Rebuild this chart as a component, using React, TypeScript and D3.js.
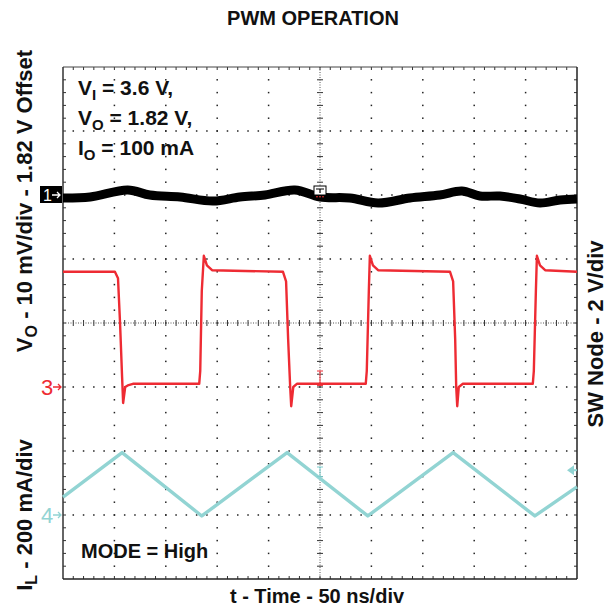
import React from 'react';
import * as d3 from 'd3';

// ---- data ----
// Channel 1: Vo ripple, mV around the 1.82 V offset, time in divisions (50 ns/div)
const ch1Time = [0, 0.53, 1.26, 1.69, 2.28, 2.92, 3.44, 3.93, 4.51, 5.0, 5.58, 6.13, 6.75, 7.33, 7.76, 8.11, 8.5, 8.89, 9.28, 9.67, 10];
const ch1mV = [-0.47, -0.31, 0.78, 0, -0.31, -0.94, -0.31, 0, 0.78, -0.31, -0.47, -1.25, -0.47, 0, 0.63, -0.16, -0.16, -0.63, -1.25, -0.78, -0.63];

// Channel 3: SW node, volts
const swTime = [0, 1.01, 1.07, 1.11, 1.15, 1.17, 1.21, 1.26, 1.36, 2.65, 2.67, 2.70, 2.74, 2.80, 2.90,
  4.28, 4.34, 4.38, 4.42, 4.44, 4.48, 4.55, 5.89, 5.91, 5.95, 5.97, 6.03, 6.13,
  7.53, 7.59, 7.63, 7.65, 7.67, 7.70, 7.78, 9.14, 9.16, 9.20, 9.22, 9.28, 9.38, 10];
const swVolts = [3.6, 3.6, 3.4, 2.0, 0.3, -0.5, 0.0, 0.05, 0.1, 0.1, 0.5, 3.0, 4.1, 3.8, 3.65,
  3.6, 3.3, 1.5, 0.0, -0.6, 0.0, 0.1, 0.1, 0.5, 3.0, 4.1, 3.8, 3.65,
  3.6, 3.3, 1.5, 0.0, -0.6, 0.0, 0.1, 0.1, 0.5, 3.0, 4.1, 3.8, 3.65, 3.6];

// Channel 4: inductor current, mA
const ilTime = [0, 1.15, 2.70, 4.36, 5.93, 7.59, 9.18, 10];
const ilmA = [56, 195, -3, 195, -3, 195, -3, 88];

// text
const titleText = 'PWM OPERATION';
const xLabel = 't - Time - 50 ns/div';
const rightLabel = 'SW Node - 2 V/div';
const condLines = [
  { main: 'V', sub: 'I', rest: ' = 3.6 V,' },
  { main: 'V', sub: 'O', rest: ' = 1.82 V,' },
  { main: 'I', sub: 'O', rest: ' = 100 mA' },
];
const modeText = 'MODE = High';

// offsets (in divisions) of channel ground markers
const ch1Ground = 2;
const ch3Ground = -1;
const ch4Ground = -3;

const X0 = 63, X1 = 577, Y0 = 67, Y1 = 579;
const FONT = '"Liberation Sans", Arial, Helvetica, sans-serif';

export default function App() {
  const x = d3.scaleLinear().domain([0, 10]).range([X0, X1]);
  const yd = d3.scaleLinear().domain([-4, 4]).range([Y1, Y0]);
  const y1 = (mv: number) => yd(ch1Ground + mv / 10);
  const y3 = (v: number) => yd(ch3Ground + v / 2);
  const y4 = (ma: number) => yd(ch4Ground + ma / 200);

  const line1 = d3.line<number>().x((_, i) => x(ch1Time[i])).y((d) => y1(d)).curve(d3.curveCatmullRom);
  const line3 = d3.line<number>().x((_, i) => x(swTime[i])).y((d) => y3(d));
  const line4 = d3.line<number>().x((_, i) => x(ilTime[i])).y((d) => y4(d));

  const minorX = d3.range(1, 50).map((k) => k / 5);
  const minorY = d3.range(-19, 20).map((k) => k / 5);
  const majorX = [1, 2, 3, 4, 6, 7, 8, 9];
  const majorY = [-3, -2, -1, 1, 2, 3];

  const grid: React.ReactNode[] = [];
  majorX.forEach((mx) => {
    minorY.forEach((my) => {
      grid.push(<rect key={`vx${mx}_${my}`} x={x(mx) - 0.75} y={yd(my) - 0.75} width={1.5} height={1.5} fill="#222" />);
    });
  });
  majorY.forEach((my) => {
    minorX.forEach((mx) => {
      grid.push(<rect key={`hy${my}_${mx}`} x={x(mx) - 0.75} y={yd(my) - 0.75} width={1.5} height={1.5} fill="#222" />);
    });
  });
  minorY.forEach((my) => {
    grid.push(<line key={`lt${my}`} x1={X0} x2={X0 + 3} y1={yd(my)} y2={yd(my)} stroke="#333" strokeWidth={1} />);
    grid.push(<line key={`rt${my}`} x1={X1 - 3} x2={X1} y1={yd(my)} y2={yd(my)} stroke="#333" strokeWidth={1} />);
    grid.push(<line key={`ct${my}`} x1={x(5) - 3} x2={x(5) + 3} y1={yd(my)} y2={yd(my)} stroke="#333" strokeWidth={1} />);
  });
  minorX.forEach((mx) => {
    grid.push(<line key={`tt${mx}`} y1={Y0} y2={Y0 + 3} x1={x(mx)} x2={x(mx)} stroke="#333" strokeWidth={1} />);
    grid.push(<line key={`bt${mx}`} y1={Y1 - 3} y2={Y1} x1={x(mx)} x2={x(mx)} stroke="#333" strokeWidth={1} />);
    grid.push(<line key={`mt${mx}`} y1={yd(0) - 3} y2={yd(0) + 3} x1={x(mx)} x2={x(mx)} stroke="#333" strokeWidth={1} />);
  });

  const cx = x(5);

  return (
    <svg width={613} height={610} style={{ position: 'absolute', left: 0, top: 0, background: '#fff' }} fontFamily={FONT}>
      <rect x={0} y={0} width={613} height={610} fill="#fff" />
      {/* title */}
      <text x={313} y={25} textAnchor="middle" fontSize={20} fontWeight="bold" fill="#111">{titleText}</text>

      {/* grid */}
      <g>{grid}</g>
      <line x1={cx} x2={cx} y1={Y0} y2={Y1} stroke="#555" strokeWidth={1} strokeDasharray="1 1.5" />
      <line x1={X0} x2={X1} y1={yd(0)} y2={yd(0)} stroke="#555" strokeWidth={1} strokeDasharray="1 1.5" />
      <line x1={X0} x2={X1} y1={Y0} y2={Y0} stroke="#444" strokeWidth={1} />
      <line x1={X0} x2={X0} y1={Y0} y2={Y1} stroke="#333" strokeWidth={1.5} />
      <line x1={X1} x2={X1} y1={Y0} y2={Y1} stroke="#222" strokeWidth={1.5} />
      <line x1={X0} x2={X1} y1={Y1} y2={Y1} stroke="#222" strokeWidth={1.5} />

      {/* traces */}
      <path d={line4(ilmA) || ''} fill="none" stroke="#92d4d3" strokeWidth={3.4} strokeLinejoin="round" />
      <path d={line3(swVolts) || ''} fill="none" stroke="#ee2b33" strokeWidth={2.4} strokeLinejoin="round" />
      <path d={line1(ch1mV) || ''} fill="none" stroke="#000" strokeWidth={9} strokeLinejoin="round" />

      {/* trigger marker */}
      <rect x={cx - 6} y={y1(0) - 9} width={12} height={9} fill="#fff" stroke="#000" strokeWidth={1} />
      <path d={`M${cx - 4},${y1(0) - 6}H${cx + 4}M${cx},${y1(0) - 6}V${y1(0) - 2}`} stroke="#000" strokeWidth={1.2} fill="none" />
      {[-3, 0, 3].map((d) => (
        <rect key={`td${d}`} x={cx + d - 0.7} y={y1(0) + 1} width={1.4} height={1.4} fill="#e33" />
      ))}
      {/* cursor I-beams */}
      <path d={`M${cx - 3},${y3(0.5)}H${cx + 3}M${cx},${y3(0.5)}V${y3(0.05)}M${cx - 3},${y3(0.05)}H${cx + 3}`} stroke="#ee2b33" strokeWidth={1} fill="none" />
      <path d={`M${cx - 3},${y4(150)}H${cx + 3}M${cx},${y4(150)}V${y4(120)}M${cx - 3},${y4(120)}H${cx + 3}`} stroke="#7ccfcf" strokeWidth={1} fill="none" />
      {/* trigger level arrow (cyan) at right edge */}
      <path d={`M${X1 - 10},${y4(140)}L${X1 - 3},${y4(140) - 5}V${y4(140) + 5}Z`} fill="#92d4d3" />
      <line x1={X1 - 3} x2={X1} y1={y4(140)} y2={y4(140)} stroke="#92d4d3" strokeWidth={2} />

      {/* channel markers */}
      <rect x={40} y={yd(ch1Ground) - 9} width={22} height={17} fill="#000" />
      <text x={43} y={yd(ch1Ground) + 6} fontSize={16} fill="#fff">1</text>
      <path d={`M52,${yd(ch1Ground)}H60M57,${yd(ch1Ground) - 3}L60,${yd(ch1Ground)}L57,${yd(ch1Ground) + 3}`} stroke="#fff" strokeWidth={1.3} fill="none" />

      <text x={41} y={yd(ch3Ground) + 8} fontSize={22} fill="#ee2b33">3</text>
      <path d={`M53,${yd(ch3Ground)}H61M58,${yd(ch3Ground) - 3}L61,${yd(ch3Ground)}L58,${yd(ch3Ground) + 3}`} stroke="#ee2b33" strokeWidth={1.3} fill="none" />

      <text x={41} y={yd(ch4Ground) + 8} fontSize={22} fill="#92d4d3">4</text>
      <path d={`M53,${yd(ch4Ground)}H61M58,${yd(ch4Ground) - 3}L61,${yd(ch4Ground)}L58,${yd(ch4Ground) + 3}`} stroke="#92d4d3" strokeWidth={1.3} fill="none" />

      {/* conditions */}
      {condLines.map((c, i) => (
        <text key={`c${i}`} x={78} y={95 + i * 30} fontSize={21} fontWeight="bold" fill="#111">
          {c.main}
          <tspan dy={5} fontSize={15}>{c.sub}</tspan>
          <tspan dy={-5}>{c.rest}</tspan>
        </text>
      ))}
      <text x={81} y={558} fontSize={20} fontWeight="bold" fill="#111">{modeText}</text>

      {/* axis labels */}
      <text x={317} y={603} textAnchor="middle" fontSize={20} fontWeight="bold" fill="#111">{xLabel}</text>
      <text transform="translate(32,201) rotate(-90)" textAnchor="middle" fontSize={22} fontWeight="bold" fill="#111">
        V<tspan dy={5} fontSize={16}>O</tspan>
        <tspan dy={-5}> - 10 mV/div - 1.82 V Offset</tspan>
      </text>
      <text transform="translate(32,515) rotate(-90)" textAnchor="middle" fontSize={22} fontWeight="bold" fill="#111">
        I<tspan dy={5} fontSize={16}>L</tspan>
        <tspan dy={-5}> - 200 mA/div</tspan>
      </text>
      <text transform="translate(603,334) rotate(-90)" textAnchor="middle" fontSize={22} fontWeight="bold" fill="#111">{rightLabel}</text>
    </svg>
  );
}
